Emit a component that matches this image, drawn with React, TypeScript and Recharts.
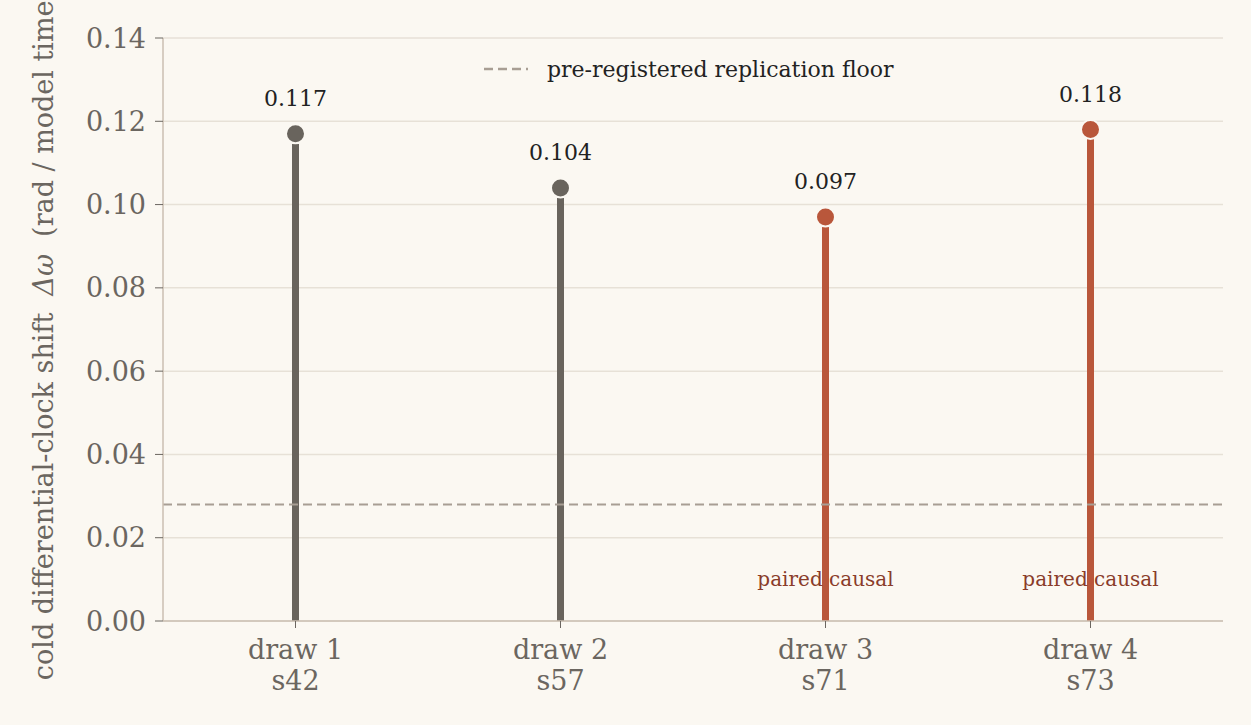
import {
  ComposedChart,
  Bar,
  Line,
  Cell,
  XAxis,
  YAxis,
  CartesianGrid,
  ReferenceLine,
  LabelList,
} from "recharts";

const draws = ["draw 1", "draw 2", "draw 3", "draw 4"];
const seeds = ["s42", "s57", "s71", "s73"];
const shifts = [0.117, 0.104, 0.097, 0.118];
const pairedCausal = [false, false, true, true];
const floorValue = 0.028;
const yTicks = [0, 0.02, 0.04, 0.06, 0.08, 0.1, 0.12, 0.14];

const GREY = "#69645d";
const RUST = "#b9573b";
const FONT = "'DejaVu Serif', serif";

const data = draws.map((d, i) => ({
  name: d,
  seed: seeds[i],
  value: shifts[i],
  note: pairedCausal[i] ? 0.01 : null,
  color: pairedCausal[i] ? RUST : GREY,
}));

function XTick(props: any) {
  const { x, y, payload, index } = props;
  return (
    <g>
      <text x={x} y={y + 29} textAnchor="middle" fontSize={27} fill="#6b6660" fontFamily={FONT}>
        {payload.value}
      </text>
      <text x={x} y={y + 60} textAnchor="middle" fontSize={27} fill="#6b6660" fontFamily={FONT}>
        {seeds[index]}
      </text>
    </g>
  );
}

function Dot(props: any) {
  const { cx, cy, payload } = props;
  if (cx == null || cy == null) return <g />;
  return <circle cx={cx} cy={cy} r={9.5} fill={payload.color} stroke="#fbf8f2" strokeWidth={2} />;
}

function YLabel() {
  const cx = 43;
  const cy = 335;
  return (
    <text
      x={cx}
      y={cy}
      transform={`rotate(-90 ${cx} ${cy})`}
      textAnchor="middle"
      dominantBaseline="central"
      fontSize={27}
      fill="#6b6660"
      fontFamily={FONT}
      style={{ whiteSpace: "pre" }}
    >
      {"cold differential-clock shift  "}
      <tspan fontStyle="italic">Δω</tspan>
      {"  (rad / model time)"}
    </text>
  );
}

export default function App() {
  return (
    <div style={{ position: "fixed", left: 0, top: 0, width: 1251, height: 725, background: "#fbf8f2" }}>
      <ComposedChart
        width={1251}
        height={725}
        data={data}
        margin={{ top: 38, right: 28, bottom: 0, left: 0 }}
        barCategoryGap={0}
      >
        <CartesianGrid vertical={false} stroke="#e7e1d7" strokeWidth={1.5} />
        <XAxis
          dataKey="name"
          height={104}
          tick={<XTick />}
          tickLine={{ stroke: "#6b6660" }}
          tickSize={7}
          axisLine={{ stroke: "#cbbfb2", strokeWidth: 1.5 }}
          interval={0}
        />
        <YAxis
          width={163}
          domain={[0, 0.14]}
          ticks={yTicks}
          tickFormatter={(v: number) => v.toFixed(2)}
          tick={{ fontSize: 27, fill: "#6b6660", fontFamily: FONT }}
          tickLine={{ stroke: "#6b6660" }}
          tickSize={8}
          tickMargin={9}
          axisLine={{ stroke: "#cbbfb2", strokeWidth: 1.5 }}
          label={<YLabel />}
        />
        <ReferenceLine y={floorValue} stroke="#a89e94" strokeWidth={2} strokeDasharray="9 5" />
        <Bar dataKey="value" barSize={7} isAnimationActive={false}>
          {data.map((d) => (
            <Cell key={d.name} fill={d.color} />
          ))}
        </Bar>
        <Line dataKey="value" stroke="none" dot={<Dot />} activeDot={false} isAnimationActive={false}>
          <LabelList
            dataKey="value"
            position="top"
            offset={28}
            formatter={(v: any) => Number(v).toFixed(3)}
            style={{ fontSize: 22, fill: "#222", fontFamily: FONT }}
          />
        </Line>
        <Line dataKey="note" stroke="none" dot={false} activeDot={false} isAnimationActive={false}>
          <LabelList
            dataKey="note"
            position="center"
            formatter={(v: any) => (v == null ? "" : "paired causal")}
            style={{ fontSize: 20, fill: "#8a3c2a", fontFamily: FONT }}
          />
        </Line>
      </ComposedChart>
      <div
        style={{
          position: "absolute",
          left: 484,
          top: 56,
          display: "flex",
          alignItems: "center",
          fontFamily: FONT,
          fontSize: 22,
          color: "#222",
        }}
      >
        <svg width={63} height={26}>
          <line x1={0} y1={13} x2={44} y2={13} stroke="#a89e94" strokeWidth={2.5} strokeDasharray="9 5" />
        </svg>
        <span>pre-registered replication floor</span>
      </div>
    </div>
  );
}
